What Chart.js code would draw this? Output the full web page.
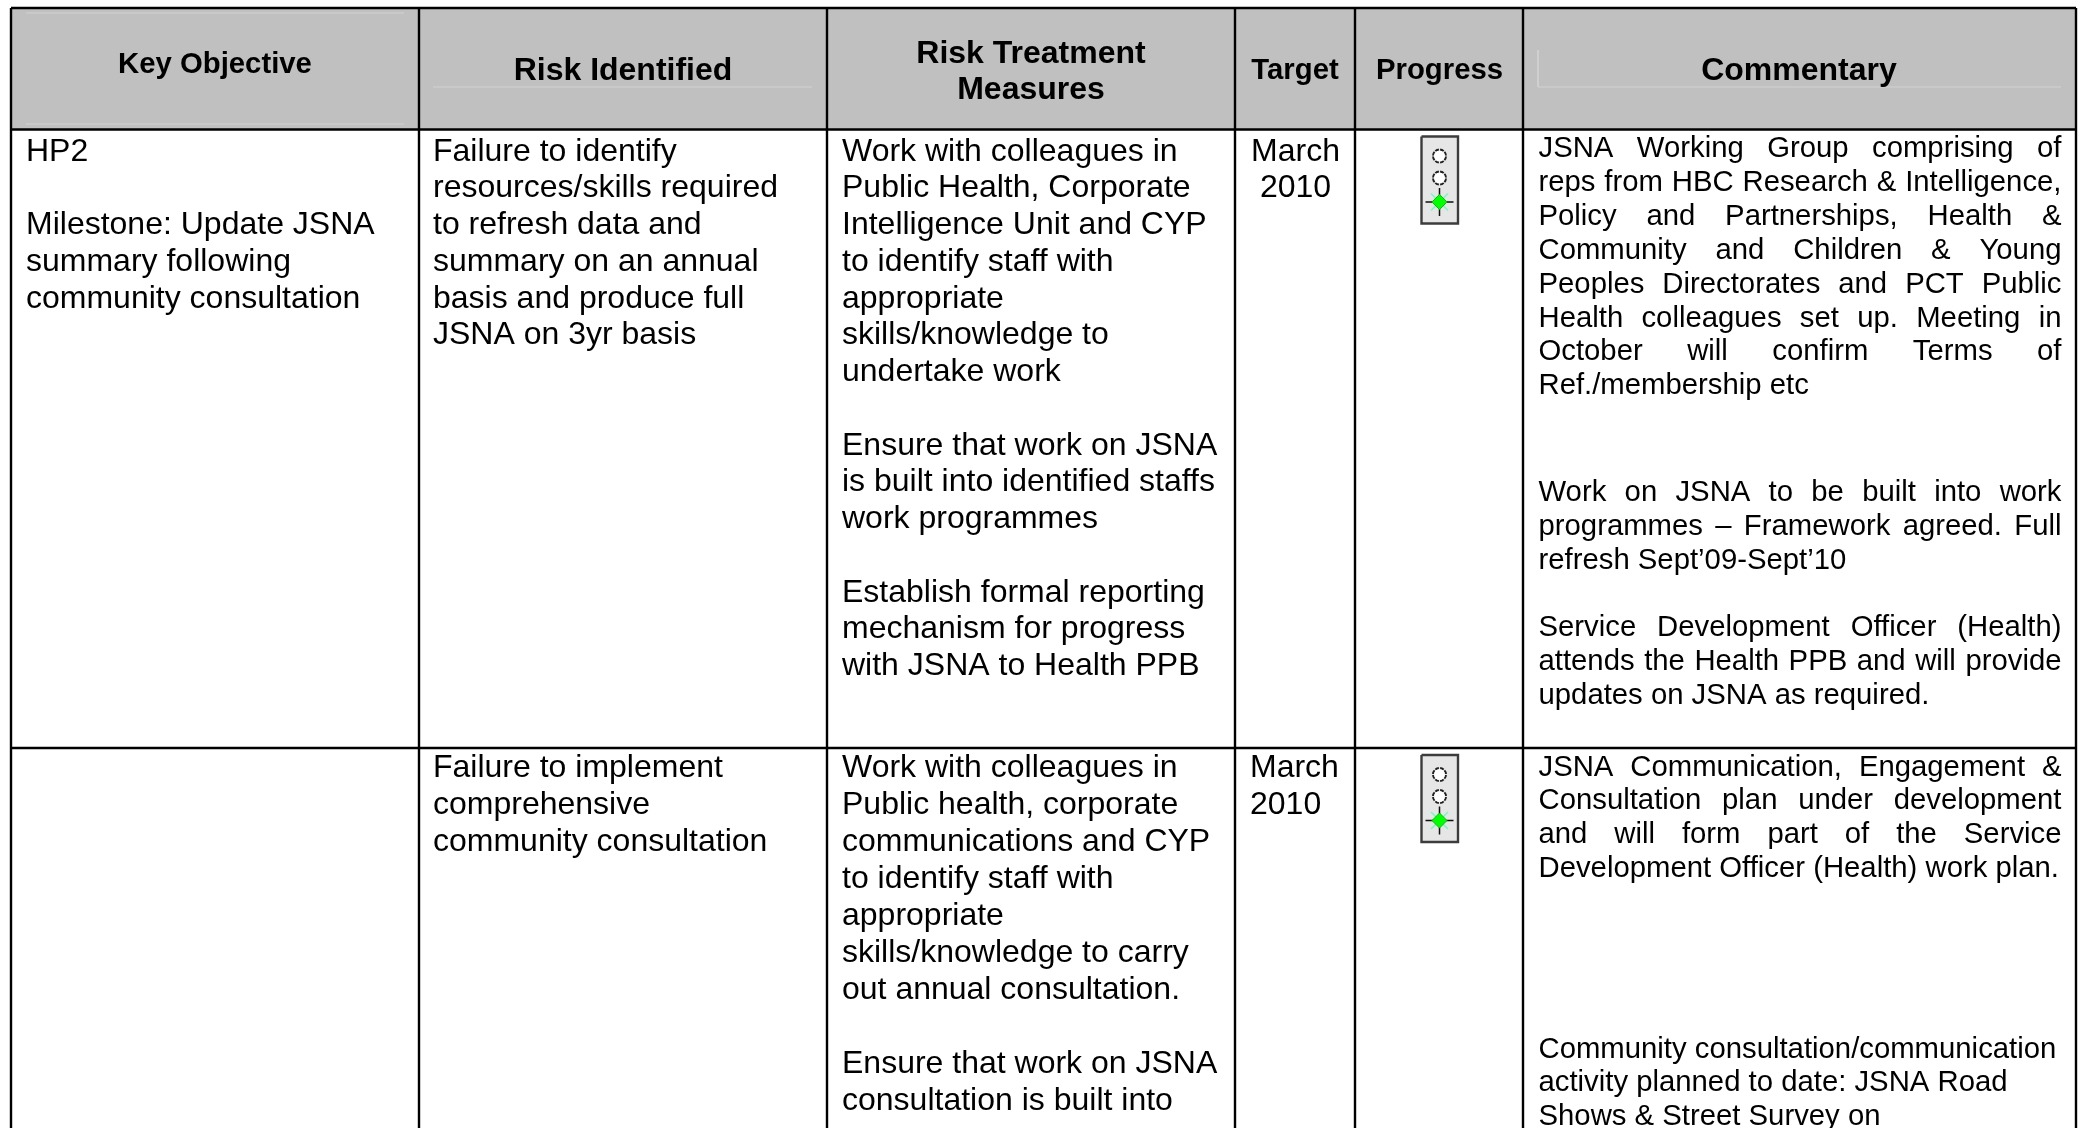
<!DOCTYPE html>
<html>
<head>
<meta charset="utf-8">
<title>JSNA risk table</title>
<script src="https://cdn.jsdelivr.net/npm/chart.js@4"></script>
<style>
  html, body { margin: 0; padding: 0; background: #fff; overflow: hidden; }
  canvas { display: block; }
</style>
</head>
<body>
<canvas id="tableChart" width="2084" height="1128"></canvas>
<script>
// table text
const headerLabels = ['Key Objective', 'Risk Identified', 'Risk Treatment', 'Measures', 'Target', 'Progress', 'Commentary'];

const keyObjective = ['HP2', '', 'Milestone: Update JSNA', 'summary following', 'community consultation'];

const risksRow1 = ['Failure to identify', 'resources/skills required', 'to refresh data and', 'summary on an annual', 'basis and produce full', 'JSNA on 3yr basis'];
const risksRow2 = ['Failure to implement', 'comprehensive', 'community consultation'];

const treatmentRow1 = ['Work with colleagues in', 'Public Health, Corporate', 'Intelligence Unit and CYP', 'to identify staff with', 'appropriate', 'skills/knowledge to', 'undertake work', '',
  'Ensure that work on JSNA', 'is built into identified staffs', 'work programmes', '',
  'Establish formal reporting', 'mechanism for progress', 'with JSNA to Health PPB'];
const treatmentRow2 = ['Work with colleagues in', 'Public health, corporate', 'communications and CYP', 'to identify staff with', 'appropriate', 'skills/knowledge to carry', 'out annual consultation.', '',
  'Ensure that work on JSNA', 'consultation is built into'];

const targetLines = ['March', '2010'];

// commentary paragraphs, last line of each one is not justified
const commentWorkingGroup = ['JSNA Working Group comprising of', 'reps from HBC Research & Intelligence,', 'Policy and Partnerships, Health &', 'Community and Children & Young', 'Peoples Directorates and PCT Public', 'Health colleagues set up. Meeting in', 'October will confirm Terms of', 'Ref./membership etc'];
const commentProgrammes = ['Work on JSNA to be built into work', 'programmes \u2013 Framework agreed. Full', 'refresh Sept\u201909-Sept\u201910'];
const commentOfficer = ['Service Development Officer (Health)', 'attends the Health PPB and will provide', 'updates on JSNA as required.'];
const commentConsultPlan = ['JSNA Communication, Engagement &', 'Consultation plan under development', 'and will form part of the Service', 'Development Officer (Health) work plan.'];
const commentActivity = ['Community consultation/communication', 'activity planned to date: JSNA Road', 'Shows & Street Survey on'];

// lamp state for each row of the progress column, top to bottom
const progressRow1 = ['off', 'off', 'green'];
const progressRow2 = ['off', 'off', 'green'];

// table geometry, the axes below run 1:1 with the page
const columnEdges = [11, 419, 827, 1235, 1355, 1523, 2076];
const rowEdges = [8, 129.5, 748, 1128];

const BODY_FONT = '32px "Liberation Sans", Arial, sans-serif';
const COMMENT_FONT = '29.3px "Liberation Sans", Arial, sans-serif';
const HEAD_BIG = 'bold 32px "Liberation Sans", Arial, sans-serif';
const HEAD_SMALL = 'bold 29.3px "Liberation Sans", Arial, sans-serif';
const STEP_ROW1 = 36.75;
const STEP_ROW2 = 36.95;
const COMMENT_STEP = 33.9;

const datasets = [];

function addLine(points, color, width, fillTo) {
  datasets.push({
    data: points,
    showLine: true,
    borderColor: color,
    borderWidth: width,
    pointRadius: 0,
    tension: 0,
    fill: fillTo === undefined ? false : { target: { value: fillTo }, above: color, below: color }
  });
}

function addPoint(x, y, style, radius, fill, border, width) {
  datasets.push({
    data: [{ x: x, y: y }],
    showLine: false,
    pointStyle: style,
    pointRadius: radius,
    pointBackgroundColor: fill,
    pointBorderColor: border,
    pointBorderWidth: width
  });
}

// header band
addLine([{ x: columnEdges[0], y: rowEdges[0] }, { x: columnEdges[6], y: rowEdges[0] }], '#c0c0c0', 0, rowEdges[1]);

// faint paragraph rules left in the header
const faint = '#d2d2d2';
addLine([{ x: 26, y: 13 }, { x: 404, y: 13 }], faint, 1);
addLine([{ x: 26, y: 124 }, { x: 404, y: 124 }], faint, 1);
addLine([{ x: 433, y: 87 }, { x: 812, y: 87 }], faint, 1);
addLine([{ x: 1538, y: 87 }, { x: 2061, y: 87 }], faint, 1);
addLine([{ x: 1538, y: 50 }, { x: 1538, y: 87 }], faint, 1);

// grid
columnEdges.forEach(function (x) {
  addLine([{ x: x, y: rowEdges[0] }, { x: x, y: rowEdges[3] }], '#000', 2.4);
});
rowEdges.slice(0, 3).forEach(function (y) {
  addLine([{ x: columnEdges[0], y: y }, { x: columnEdges[6], y: y }], '#000', 2.4);
});

// traffic light icon
function addLamps(rowTop, states) {
  const left = 1421.5, right = 1458, top = rowTop + 7, bottom = rowTop + 94;
  const cx = 1439.5;
  addLine([{ x: left, y: top }, { x: right, y: top }], '#e6e6e6', 0, bottom);
  addLine([{ x: left, y: top }, { x: right, y: top }, { x: right, y: bottom }, { x: left, y: bottom }, { x: left, y: top }], '#3c3c3c', 2.4);
  const offsets = [26.5, 48.5, 72.5];
  states.forEach(function (state, i) {
    const y = rowTop + offsets[i];
    if (state === 'green') {
      addPoint(cx, y, 'crossRot', 12, '#00ff00', '#7cf5c0', 1.5);
      addPoint(cx, y, 'cross', 14, '#00ff00', '#101010', 1.5);
      addPoint(cx, y, 'rectRot', 7.5, '#00ff00', '#00c000', 1);
    } else {
      addPoint(cx, y, 'circle', 6.5, '#ffffff', '#202020', 2);
      // white nicks break the ring up, the icon has a dotted outline
      addPoint(cx, y, 'crossRot', 9, '#ffffff', '#e6e6e6', 1.2);
      addPoint(cx, y, 'cross', 9, '#ffffff', '#e6e6e6', 1.2);
      addPoint(cx, y, 'circle', 5.2, '#ffffff', '#ffffff', 0);
    }
  });
}
addLamps(rowEdges[1], progressRow1);
addLamps(rowEdges[2], progressRow2);

// later datasets have to paint over earlier ones
datasets.forEach(function (d, i) { d.order = datasets.length - i; });

function drawBlock(ctx, chart, lines, x, firstBaseline, step, font, opts) {
  const sx = chart.scales.x, sy = chart.scales.y;
  opts = opts || {};
  ctx.font = font;
  ctx.fillStyle = '#000';
  ctx.textBaseline = 'alphabetic';
  lines.forEach(function (line, i) {
    if (!line) return;
    const y = sy.getPixelForValue(firstBaseline + i * step);
    const px = sx.getPixelForValue(x);
    if (opts.center) {
      ctx.textAlign = 'center';
      ctx.fillText(line, px, y);
      return;
    }
    ctx.textAlign = 'left';
    if (opts.justifyTo && i < lines.length - 1) {
      const words = line.split(' ');
      let used = 0;
      words.forEach(function (w) { used += ctx.measureText(w).width; });
      const gap = (sx.getPixelForValue(opts.justifyTo) - px - used) / (words.length - 1);
      let cur = px;
      words.forEach(function (w) {
        ctx.fillText(w, cur, y);
        cur += ctx.measureText(w).width + gap;
      });
    } else {
      ctx.fillText(line, px, y);
    }
  });
}

const tableText = {
  id: 'tableText',
  afterDatasetsDraw: function (chart) {
    const ctx = chart.ctx;
    ctx.save();
    const c = { center: true };
    const LEFT = 1538.5, RIGHT = 2061.5;
    // header
    drawBlock(ctx, chart, [headerLabels[0]], 215, 73, 0, HEAD_SMALL, c);
    drawBlock(ctx, chart, [headerLabels[1]], 623, 80, 0, HEAD_BIG, c);
    drawBlock(ctx, chart, [headerLabels[2], headerLabels[3]], 1031, 62.5, 36.5, HEAD_BIG, c);
    drawBlock(ctx, chart, [headerLabels[4]], 1295, 79, 0, HEAD_SMALL, c);
    drawBlock(ctx, chart, [headerLabels[5]], 1439.5, 79, 0, HEAD_SMALL, c);
    drawBlock(ctx, chart, [headerLabels[6]], 1799, 80, 0, HEAD_BIG, c);
    // row 1
    drawBlock(ctx, chart, keyObjective, 26, 160.5, STEP_ROW1, BODY_FONT);
    drawBlock(ctx, chart, risksRow1, 433, 160.5, STEP_ROW1, BODY_FONT);
    drawBlock(ctx, chart, treatmentRow1, 842, 160.5, STEP_ROW1, BODY_FONT);
    drawBlock(ctx, chart, targetLines, 1295.5, 160.5, STEP_ROW1, BODY_FONT, c);
    drawBlock(ctx, chart, commentWorkingGroup, LEFT, 157, COMMENT_STEP, COMMENT_FONT, { justifyTo: RIGHT });
    drawBlock(ctx, chart, commentProgrammes, LEFT, 501, COMMENT_STEP, COMMENT_FONT, { justifyTo: RIGHT });
    drawBlock(ctx, chart, commentOfficer, LEFT, 636, COMMENT_STEP, COMMENT_FONT, { justifyTo: RIGHT });
    // row 2
    drawBlock(ctx, chart, risksRow2, 433, 777, STEP_ROW2, BODY_FONT);
    drawBlock(ctx, chart, treatmentRow2, 842, 777, STEP_ROW2, BODY_FONT);
    drawBlock(ctx, chart, targetLines, 1250, 777, STEP_ROW2, BODY_FONT);
    drawBlock(ctx, chart, commentConsultPlan, LEFT, 775.5, COMMENT_STEP, COMMENT_FONT, { justifyTo: RIGHT });
    drawBlock(ctx, chart, commentActivity, LEFT, 1057.5, COMMENT_STEP, COMMENT_FONT);
    ctx.restore();
  }
};

new Chart(document.getElementById('tableChart').getContext('2d'), {
  type: 'scatter',
  data: { datasets: datasets },
  options: {
    responsive: false,
    animation: false,
    layout: { padding: 0, autoPadding: false },
    plugins: {
      legend: { display: false },
      title: { display: false },
      tooltip: { enabled: false }
    },
    scales: {
      x: { type: 'linear', min: 0, max: 2084, display: false },
      y: { type: 'linear', min: 0, max: 1128, reverse: true, display: false }
    }
  },
  plugins: [tableText]
});
</script>
</body>
</html>
